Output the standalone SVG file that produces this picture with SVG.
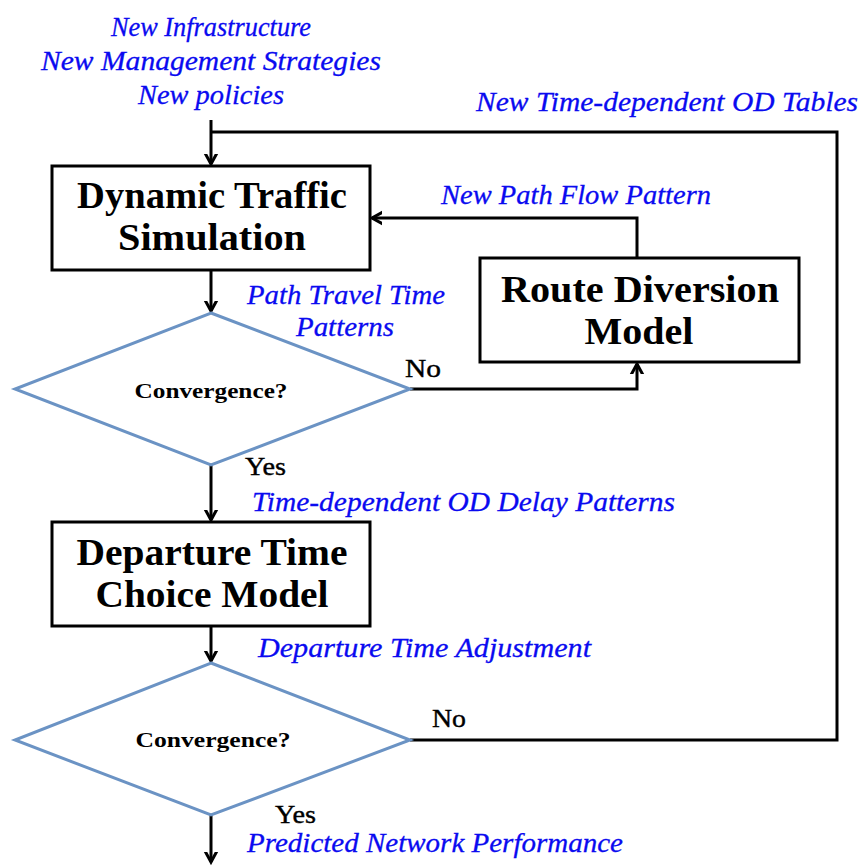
<svg xmlns="http://www.w3.org/2000/svg" width="862" height="867" viewBox="0 0 862 867">
<style>
.box{fill:#fff;stroke:#000;stroke-width:3}
.dia{fill:#fff;stroke:#6b93c4;stroke-width:3}
.ln{fill:none;stroke:#000;stroke-width:3}
.bt{font-family:"Liberation Serif",serif;font-weight:bold;font-size:37px;fill:#000;text-anchor:middle}
.ct{font-family:"Liberation Serif",serif;font-weight:bold;font-size:21px;fill:#000;text-anchor:middle}
.yn{font-family:"Liberation Serif",serif;font-size:25px;fill:#000;stroke:#000;stroke-width:0.4}
.lb{font-family:"Liberation Serif",serif;font-style:italic;font-size:28px;fill:#0a0af0;stroke:#0a0af0;stroke-width:0.3}
</style>
<defs>
<marker id="ah" markerWidth="20" markerHeight="20" viewBox="-10 -10 20 20" refX="0" refY="0" orient="auto" markerUnits="userSpaceOnUse">
<path d="M-11,-6 L0,0 L-11,6" fill="none" stroke="#000" stroke-width="3"/>
</marker>
</defs>
<g id="input-label">
<text class="lb" x="211" y="36" text-anchor="middle" textLength="200" lengthAdjust="spacingAndGlyphs">New Infrastructure</text>
<text class="lb" x="211" y="70" text-anchor="middle" textLength="340" lengthAdjust="spacingAndGlyphs">New Management Strategies</text>
<text class="lb" x="211" y="104" text-anchor="middle" textLength="146" lengthAdjust="spacingAndGlyphs">New policies</text>
</g>
<g id="connectors">
<path class="ln" d="M211,120 L211,164" marker-end="url(#ah)"/>
<path class="ln" d="M211,132 L837,132 L837,740 L410,740"/>
<path class="ln" d="M637,258 L637,218 L372,218" marker-end="url(#ah)"/>
<path class="ln" d="M211,270 L211,311" marker-end="url(#ah)"/>
<path class="ln" d="M410,389 L637,389 L637,364" marker-end="url(#ah)"/>
<path class="ln" d="M211,465 L211,520" marker-end="url(#ah)"/>
<path class="ln" d="M211,626 L211,661" marker-end="url(#ah)"/>
<path class="ln" d="M211,815 L211,862" marker-end="url(#ah)"/>
<text class="lb" x="476" y="111" textLength="382" lengthAdjust="spacingAndGlyphs">New Time-dependent OD Tables</text>
<text class="lb" x="441" y="204" textLength="270" lengthAdjust="spacingAndGlyphs">New Path Flow Pattern</text>
<text class="lb" x="247" y="304" textLength="198" lengthAdjust="spacingAndGlyphs">Path Travel Time</text>
<text class="lb" x="296" y="336" textLength="98" lengthAdjust="spacingAndGlyphs">Patterns</text>
<text class="yn" x="405" y="377" textLength="36" lengthAdjust="spacingAndGlyphs">No</text>
<text class="yn" x="245" y="475" textLength="41" lengthAdjust="spacingAndGlyphs">Yes</text>
<text class="lb" x="252" y="511" textLength="423" lengthAdjust="spacingAndGlyphs">Time-dependent OD Delay Patterns</text>
<text class="lb" x="258" y="657" textLength="333" lengthAdjust="spacingAndGlyphs">Departure Time Adjustment</text>
<text class="yn" x="432" y="727" textLength="34" lengthAdjust="spacingAndGlyphs">No</text>
<text class="yn" x="275" y="823" textLength="41" lengthAdjust="spacingAndGlyphs">Yes</text>
<text class="lb" x="247" y="852" textLength="376" lengthAdjust="spacingAndGlyphs">Predicted Network Performance</text>
</g>
<g id="dynamic-traffic-simulation">
<rect class="box" x="52" y="166" width="318" height="104"/>
<text class="bt" x="212" y="208" textLength="270" lengthAdjust="spacingAndGlyphs">Dynamic Traffic</text>
<text class="bt" x="212" y="250" textLength="188" lengthAdjust="spacingAndGlyphs">Simulation</text>
</g>
<g id="route-diversion-model">
<rect class="box" x="480" y="258" width="319" height="104"/>
<text class="bt" x="640" y="302" textLength="278" lengthAdjust="spacingAndGlyphs">Route Diversion</text>
<text class="bt" x="639" y="344" textLength="109" lengthAdjust="spacingAndGlyphs">Model</text>
</g>
<g id="convergence-1">
<polygon class="dia" points="211,313 410,389 211,465 15,389"/>
<text class="ct" x="211" y="398" textLength="153" lengthAdjust="spacingAndGlyphs">Convergence?</text>
</g>
<g id="departure-time-choice-model">
<rect class="box" x="52" y="522" width="318" height="104"/>
<text class="bt" x="212" y="565" textLength="271" lengthAdjust="spacingAndGlyphs">Departure Time</text>
<text class="bt" x="212" y="607" textLength="233" lengthAdjust="spacingAndGlyphs">Choice Model</text>
</g>
<g id="convergence-2">
<polygon class="dia" points="211,663 410,740 211,815 15,740"/>
<text class="ct" x="213" y="747" textLength="155" lengthAdjust="spacingAndGlyphs">Convergence?</text>
</g>
</svg>
